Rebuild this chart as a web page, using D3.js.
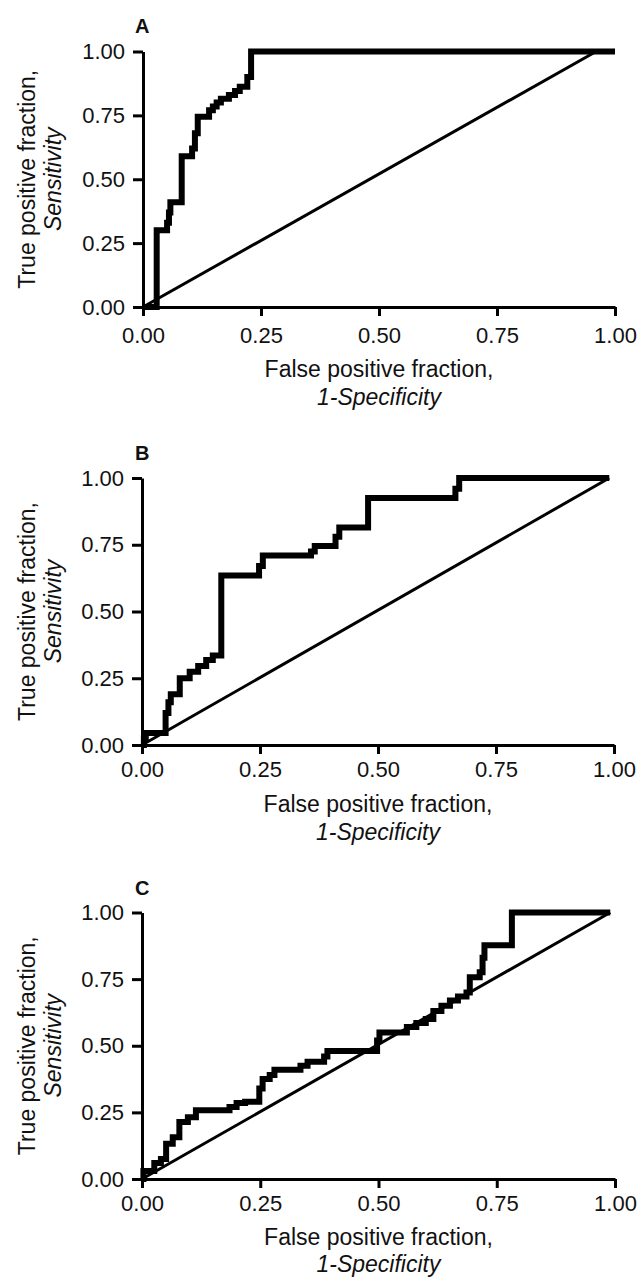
<!DOCTYPE html>
<html>
<head>
<meta charset="utf-8">
<script src="https://cdn.jsdelivr.net/npm/d3@7"></script>
<style>
  html, body { margin: 0; padding: 0; background: #fff; }
  svg { display: block; }
  text { font-family: "Liberation Sans", Arial, Helvetica, sans-serif; fill: #111; }
</style>
</head>
<body>
<svg id="chart" width="641" height="1279"></svg>
<script>
// ---- Data ----
const tickValues = [0, 0.25, 0.5, 0.75, 1];
const xTitle = "False positive fraction,";
const xSubtitle = "1-Specificity";
const yTitle = "True positive fraction,";
const ySubtitle = "Sensitivity";
const panelLetters = ["A", "B", "C"];

// ROC curves: (fpr, tpr) corner points, drawn as steps (horizontal then vertical)
const aFPR = [0, 0.029, 0.051, 0.055, 0.058, 0.082, 0.104, 0.110, 0.116, 0.140, 0.148, 0.156, 0.165, 0.182, 0.195, 0.205, 0.221, 0.229, 1.00];
const aTPR = [0, 0.300, 0.330, 0.370, 0.410, 0.590, 0.620, 0.680, 0.745, 0.770, 0.785, 0.800, 0.815, 0.830, 0.845, 0.862, 0.900, 1.000, 1.00];

const bFPR = [0, 0.004, 0.008, 0.050, 0.056, 0.061, 0.080, 0.101, 0.119, 0.136, 0.150, 0.168, 0.248, 0.256, 0.358, 0.366, 0.410, 0.418, 0.479, 0.664, 0.672, 0.99];
const bTPR = [0, 0.025, 0.045, 0.120, 0.160, 0.190, 0.250, 0.274, 0.296, 0.318, 0.335, 0.635, 0.670, 0.710, 0.725, 0.745, 0.780, 0.815, 0.925, 0.960, 1.000, 1.00];

const cFPR = [0, 0.003, 0.026, 0.040, 0.051, 0.065, 0.079, 0.097, 0.114, 0.185, 0.200, 0.218, 0.248, 0.255, 0.270, 0.280, 0.335, 0.350, 0.385, 0.392, 0.497, 0.502, 0.560, 0.580, 0.600, 0.616, 0.633, 0.651, 0.668, 0.686, 0.693, 0.714, 0.720, 0.724, 0.782, 0.99];
const cTPR = [0, 0.030, 0.060, 0.075, 0.132, 0.157, 0.214, 0.232, 0.258, 0.270, 0.285, 0.290, 0.340, 0.375, 0.390, 0.410, 0.425, 0.440, 0.460, 0.480, 0.520, 0.550, 0.570, 0.585, 0.600, 0.630, 0.650, 0.670, 0.685, 0.700, 0.757, 0.776, 0.830, 0.877, 1.000, 1.00];

// Reference (chance) lines
const aDiagFPR = [0, 0.96], aDiagTPR = [0, 1];
const bDiagFPR = [0, 0.99], bDiagTPR = [0, 1];
const cDiagFPR = [0, 0.99], cDiagTPR = [0, 1];

// ---- Layout (pixels) ----
const panels = [
  { letter: panelLetters[0], fpr: aFPR, tpr: aTPR, dfpr: aDiagFPR, dtpr: aDiagTPR,
    x0: 143, x1: 615, yTop: 51.5, yBot: 307, letterY: 32.7, tickGap: 20.4, t1: 70, t2: 98 },
  { letter: panelLetters[1], fpr: bFPR, tpr: bTPR, dfpr: bDiagFPR, dtpr: bDiagTPR,
    x0: 142, x1: 614, yTop: 478, yBot: 745, letterY: 460, tickGap: 16.6, t1: 67, t2: 95 },
  { letter: panelLetters[2], fpr: cFPR, tpr: cTPR, dfpr: cDiagFPR, dtpr: cDiagTPR,
    x0: 142, x1: 615, yTop: 912.5, yBot: 1179, letterY: 895, tickGap: 16.6, t1: 66, t2: 93 }
];

const svg = d3.select("#chart");
const fmt = d3.format(".2f");

panels.forEach(p => {
  const g = svg.append("g");
  const x = d3.scaleLinear().domain([0, 1]).range([p.x0, p.x1]);
  const y = d3.scaleLinear().domain([0, 1]).range([p.yBot, p.yTop]);

  // diagonal
  const diag = p.dfpr.map((v, i) => [v, p.dtpr[i]]);
  g.append("path")
    .datum(diag)
    .attr("d", d3.line().x(d => x(d[0])).y(d => y(d[1])))
    .attr("fill", "none").attr("stroke", "#000").attr("stroke-width", 3);

  // ROC step curve
  const pts = p.fpr.map((v, i) => [v, p.tpr[i]]);
  g.append("path")
    .datum(pts)
    .attr("d", d3.line().x(d => x(d[0])).y(d => y(d[1])).curve(d3.curveStepAfter))
    .attr("fill", "none").attr("stroke", "#000").attr("stroke-width", 6)
    .attr("stroke-linejoin", "miter").attr("stroke-linecap", "butt");

  // axes
  const xAxis = d3.axisBottom(x).tickValues(tickValues).tickFormat(fmt)
    .tickSize(9).tickSizeOuter(0).tickPadding(p.tickGap - 9);
  const gx = g.append("g").attr("transform", `translate(0,${p.yBot})`).call(xAxis);
  const yAxis = d3.axisLeft(y).tickValues(tickValues).tickFormat(fmt)
    .tickSize(10).tickSizeOuter(0).tickPadding(8);
  const gy = g.append("g").attr("transform", `translate(${p.x0},0)`).call(yAxis);

  [gx, gy].forEach(a => {
    a.select(".domain").attr("stroke", "#000").attr("stroke-width", 3);
    a.selectAll(".tick line").attr("stroke", "#000").attr("stroke-width", 3);
    a.selectAll(".tick text").attr("font-size", 22)
      .attr("font-family", "'Liberation Sans', Arial, Helvetica, sans-serif").attr("fill", "#111");
  });

  // x-axis titles
  const cx = (p.x0 + p.x1) / 2;
  g.append("text").attr("x", cx).attr("y", p.yBot + p.t1)
    .attr("text-anchor", "middle").attr("font-size", 23).text(xTitle);
  g.append("text").attr("x", cx).attr("y", p.yBot + p.t2)
    .attr("text-anchor", "middle").attr("font-size", 23).attr("font-style", "italic").text(xSubtitle);

  // y-axis titles
  const cy = (p.yTop + p.yBot) / 2;
  g.append("text").attr("transform", `translate(35,${cy}) rotate(-90)`)
    .attr("text-anchor", "middle").attr("font-size", 23).text(yTitle);
  g.append("text").attr("transform", `translate(61,${cy}) rotate(-90)`)
    .attr("text-anchor", "middle").attr("font-size", 23).attr("font-style", "italic").text(ySubtitle);

  // panel letter
  g.append("text").attr("x", 135).attr("y", p.letterY)
    .attr("font-size", 20).attr("font-weight", "bold").text(p.letter);
});
</script>
</body>
</html>
